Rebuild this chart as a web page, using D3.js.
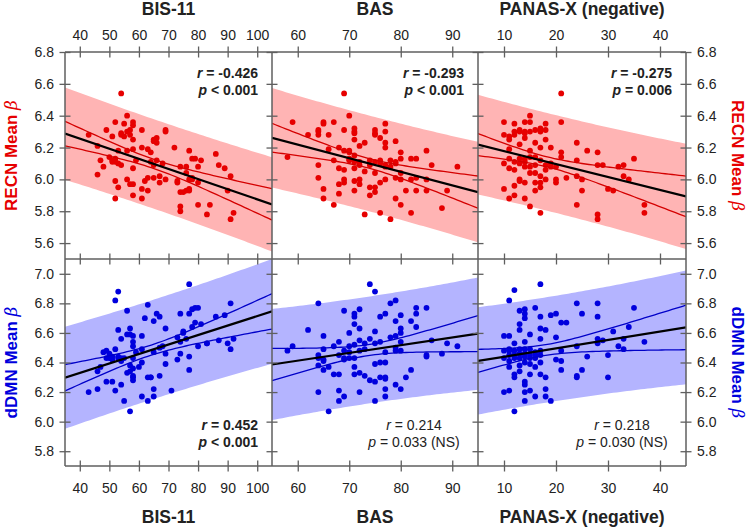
<!DOCTYPE html>
<html><head><meta charset="utf-8">
<script src="https://cdn.jsdelivr.net/npm/d3@7"></script>
<style>body{margin:0;background:#fff}svg{display:block;font-family:"Liberation Sans",Arial,sans-serif}</style>
</head><body><svg id="c" width="749" height="527"></svg>
<script>
const measures = ["BIS-11", "BAS", "PANAS-X (negative)"];
const xDomains = [[35, 105], [55, 95], [5, 45]];
const xTicks = [[40, 50, 60, 70, 80, 90, 100], [60, 70, 80, 90], [10, 20, 30, 40]];
const networks = ["RECN", "dDMN"];
const yDomains = [[5.5, 6.8], [5.7, 7.1]];
const yTicks = [[5.6, 5.8, 6.0, 6.2, 6.4, 6.6, 6.8], [5.8, 6.0, 6.2, 6.4, 6.6, 6.8, 7.0]];
const rValues = [["-0.426", "-0.293", "-0.275"], ["0.452", "0.214", "0.218"]];
const pValues = [["< 0.001", "< 0.001", "= 0.006"], ["< 0.001", "= 0.033 (NS)", "= 0.030 (NS)"]];
const significant = [[true, true, true], [true, false, false]];

const bisRecn = [[43,6.28],[46,6.21],[47,6.12],[48,6.08],[46,6.03],[49,6.31],[50,6.14],[51,6.12],[51,6.11],[52,6.11],[52,6.13],[51,6.27],[52,6.36],[52,5.99],[53,5.95],[52,5.88],[53,6.18],[53,6.10],[54,6.09],[54,6.29],[54,6.28],[55,6.35],[55,6.27],[56,6.40],[56,6.18],[56,6.00],[56,6.30],[57,6.28],[57,5.97],[58,5.97],[57,6.31],[58,6.36],[58,6.34],[58,6.25],[58,6.19],[58,6.07],[58,5.90],[59,6.12],[61,6.31],[61,6.20],[61,5.94],[61,5.88],[62,5.99],[63,6.19],[63,6.01],[64,6.17],[63,5.93],[64,6.11],[65,6.09],[65,6.01],[65,6.24],[65,6.25],[66,6.26],[66,6.12],[66,6.23],[67,6.02],[67,5.98],[68,6.10],[69,6.00],[69,6.31],[69,6.30],[72,6.20],[73,5.98],[73,5.99],[74,5.92],[74,6.08],[74,5.83],[74,5.80],[75,5.92],[76,6.04],[76,6.08],[76,5.93],[77,6.18],[77,6.00],[77,5.94],[77,5.93],[78,6.00],[78,6.13],[78,6.01],[79,6.13],[80,5.98],[80,6.08],[81,6.12],[80,5.84],[83,5.78],[84,5.84],[86,6.16],[87,6.09],[89,6.07],[90,5.93],[91,6.02],[91,5.75],[92,5.79],[54,6.54]];

const basRecn = [[59,6.36],[58,6.14],[62,6.28],[64,6.31],[64,6.30],[64,6.28],[65,6.36],[65,6.35],[66,6.28],[67,6.36],[66,6.19],[64,6.09],[64,6.01],[65,5.94],[65,5.88],[67,6.12],[67,5.84],[68,6.20],[68,6.07],[68,5.97],[68,5.91],[69,6.31],[69,6.18],[69,6.00],[69,5.98],[70,6.18],[70,6.40],[70,6.17],[70,6.12],[71,6.32],[71,6.30],[71,6.29],[71,6.25],[71,6.11],[71,6.07],[71,5.99],[71,5.93],[72,6.21],[72,6.09],[72,6.00],[72,5.97],[73,6.23],[73,5.78],[74,6.09],[74,5.95],[74,5.90],[75,6.31],[75,6.29],[75,6.28],[75,6.11],[75,5.95],[75,5.92],[76,6.26],[76,6.12],[76,5.98],[76,5.79],[77,6.35],[77,6.30],[77,6.23],[77,6.20],[77,6.09],[77,6.08],[77,6.00],[78,6.08],[78,5.75],[79,6.24],[79,6.11],[79,6.01],[79,5.88],[80,6.17],[80,6.13],[80,6.04],[80,6.00],[80,5.84],[81,5.93],[82,6.13],[82,6.00],[82,5.79],[83,6.13],[83,6.01],[83,5.93],[85,6.18],[85,6.00],[85,5.93],[86,6.09],[88,5.82],[89,5.93],[91,6.08],[70,6.13],[72,6.11],[74,6.12],[73,6.05],[76,6.10],[78,6.12],[69,6.06],[71,6.15],[75,6.04],[79,6.10],[69,6.54]];

const panasRecn = [[10,6.36],[10,6.28],[10,6.10],[10,5.94],[11,6.25],[11,6.19],[11,6.13],[11,6.07],[11,5.88],[11,6.27],[12,6.35],[12,6.30],[12,6.28],[12,6.11],[12,6.06],[12,5.96],[12,5.90],[13,6.30],[13,6.22],[13,6.13],[13,6.00],[13,5.99],[13,6.31],[14,6.36],[14,6.30],[14,6.29],[14,6.26],[14,6.13],[14,6.11],[14,5.98],[14,5.88],[15,6.40],[15,6.36],[15,6.30],[15,6.18],[15,6.14],[15,6.04],[15,5.83],[16,6.31],[16,6.23],[16,6.14],[16,6.09],[16,5.98],[16,5.93],[17,6.32],[17,6.30],[17,6.20],[17,6.12],[17,6.02],[17,5.98],[17,5.95],[17,5.79],[18,6.35],[18,6.31],[18,6.09],[18,6.00],[19,6.20],[19,6.08],[20,6.08],[20,6.00],[20,5.98],[21,6.36],[21,6.17],[21,6.14],[22,6.01],[24,6.23],[24,6.12],[24,6.02],[24,5.84],[25,6.00],[25,5.93],[26,6.18],[28,6.17],[28,6.09],[29,6.09],[28,5.78],[28,5.75],[30,5.94],[31,5.93],[32,6.08],[33,6.09],[33,6.02],[34,6.00],[35,6.13],[37,5.84],[37,5.79],[18,6.25],[18,6.06],[19,6.10],[15,6.08],[13,6.10],[14,6.08],[16,6.04],[21,6.54]];

const bisDdmn = [[43,6.20],[46,6.22],[46,6.34],[47,6.37],[48,6.47],[49,6.27],[49,6.48],[50,6.46],[51,6.27],[51,6.44],[52,6.49],[52,6.21],[52,6.82],[53,6.88],[53,6.62],[53,6.43],[53,6.44],[54,6.43],[54,6.56],[54,6.25],[54,6.41],[55,6.14],[55,6.43],[56,6.75],[56,6.59],[56,6.33],[57,6.63],[57,6.07],[57,6.59],[57,6.34],[57,6.38],[58,6.31],[58,6.58],[58,6.54],[58,6.51],[58,6.30],[58,6.28],[58,6.36],[58,6.43],[59,6.47],[60,6.37],[61,6.58],[61,6.17],[61,6.49],[61,6.40],[62,6.70],[63,6.79],[63,6.30],[63,6.14],[64,6.30],[64,6.30],[65,6.68],[65,6.22],[65,6.17],[65,6.47],[66,6.73],[67,6.71],[67,6.50],[67,6.31],[68,6.51],[69,6.63],[69,6.39],[69,6.46],[71,6.21],[73,6.57],[73,6.42],[74,6.73],[74,6.54],[74,6.46],[75,6.61],[75,6.60],[76,6.56],[77,6.93],[77,6.73],[77,6.44],[77,6.35],[78,6.64],[78,6.76],[79,6.77],[79,6.67],[80,6.77],[80,6.51],[81,6.66],[83,6.53],[83,6.53],[86,6.71],[87,6.55],[89,6.72],[90,6.53],[91,6.80],[91,6.49],[92,6.56],[49,6.43],[50,6.43],[51,6.42]];

const basDdmn = [[58,6.48],[59,6.51],[62,6.62],[64,6.80],[64,6.45],[64,6.43],[64,6.38],[64,6.20],[65,6.58],[65,6.49],[65,6.42],[65,6.41],[65,6.35],[66,6.37],[66,6.07],[67,6.51],[67,6.32],[68,6.54],[68,6.21],[68,6.14],[68,6.32],[69,6.75],[69,6.48],[69,6.43],[69,6.42],[69,6.17],[70,6.60],[70,6.47],[70,6.43],[71,6.73],[71,6.71],[71,6.66],[71,6.52],[71,6.43],[71,6.37],[71,6.32],[72,6.76],[72,6.63],[72,6.55],[72,6.48],[72,6.33],[72,6.20],[73,6.53],[73,6.31],[74,6.93],[74,6.56],[74,6.28],[75,6.88],[75,6.61],[75,6.53],[75,6.39],[75,6.27],[75,6.14],[76,6.71],[76,6.54],[76,6.40],[76,6.30],[77,6.73],[77,6.47],[77,6.40],[77,6.30],[77,6.29],[77,6.22],[77,6.17],[78,6.80],[78,6.57],[79,6.82],[79,6.68],[79,6.58],[79,6.50],[79,6.48],[79,6.25],[80,6.72],[80,6.63],[80,6.60],[80,6.54],[80,6.48],[80,6.22],[81,6.30],[82,6.68],[82,6.35],[83,6.77],[83,6.73],[83,6.64],[85,6.77],[85,6.45],[85,6.44],[86,6.55],[88,6.46],[89,6.53],[91,6.51],[68,6.45],[70,6.51],[73,6.49]];

const panasDdmn = [[10,6.58],[10,6.43],[10,6.20],[11,6.82],[11,6.58],[11,6.49],[11,6.48],[11,6.45],[11,6.41],[11,6.37],[11,6.21],[12,6.89],[12,6.53],[12,6.48],[12,6.43],[12,6.32],[12,6.30],[12,6.07],[13,6.75],[13,6.66],[13,6.62],[13,6.49],[13,6.43],[13,6.38],[13,6.34],[14,6.76],[14,6.73],[14,6.70],[14,6.54],[14,6.49],[14,6.44],[14,6.40],[14,6.27],[14,6.25],[14,6.20],[14,6.14],[15,6.59],[15,6.49],[15,6.45],[15,6.39],[15,6.32],[15,6.21],[16,6.77],[16,6.47],[16,6.45],[16,6.37],[16,6.17],[17,6.93],[17,6.71],[17,6.63],[17,6.56],[17,6.48],[17,6.40],[17,6.32],[18,6.62],[18,6.30],[18,6.22],[18,6.17],[19,6.72],[19,6.14],[20,6.73],[20,6.57],[20,6.42],[21,6.67],[21,6.48],[21,6.41],[21,6.35],[22,6.67],[24,6.80],[24,6.51],[24,6.31],[24,6.30],[25,6.73],[25,6.35],[26,6.44],[28,6.80],[28,6.71],[28,6.56],[28,6.53],[29,6.55],[30,6.45],[30,6.30],[31,6.61],[32,6.51],[33,6.56],[33,6.49],[34,6.64],[35,6.77],[37,6.54],[10,6.48],[12,6.45],[13,6.46],[15,6.43],[16,6.43],[17,6.45],[14,6.46]];

const panelData = [[bisRecn, basRecn, panasRecn], [bisDdmn, basDdmn, panasDdmn]];

// ---- styling / layout ----
const colX = [65, 272, 478, 686];
const rowY = [52, 259, 466];
const pointColor = ["#e60000", "#0000dd"];
const lineColor = ["#d40000", "#0000c8"];
const bandColor = ["#ffb4b4", "#b4b4ff"];
const axisColor = "#5f5f5f";
const textColor = "#222";
const tCrit = 1.985;

const svg = d3.select("#c");

function fitStats(pts) {
  const n = pts.length;
  const mx = d3.mean(pts, d => d[0]), my = d3.mean(pts, d => d[1]);
  let sxx = 0, sxy = 0;
  pts.forEach(([x, y]) => { sxx += (x - mx) ** 2; sxy += (x - mx) * (y - my); });
  const b = sxy / sxx, a = my - b * mx;
  let sse = 0;
  pts.forEach(([x, y]) => { sse += (y - a - b * x) ** 2; });
  const s = Math.sqrt(sse / (n - 2));
  return { n, mx, sxx, a, b, s };
}

const defs = svg.append("defs");

for (let r = 0; r < 2; r++) {
  for (let c = 0; c < 3; c++) {
    const x = d3.scaleLinear().domain(xDomains[c]).range([colX[c], colX[c + 1]]);
    const y = d3.scaleLinear().domain(yDomains[r]).range([rowY[r + 1], rowY[r]]);
    const id = `clip${r}${c}`;
    defs.append("clipPath").attr("id", id).append("rect")
      .attr("x", colX[c]).attr("y", rowY[r]).attr("width", colX[c + 1] - colX[c]).attr("height", rowY[r + 1] - rowY[r]);
    const g = svg.append("g").attr("clip-path", `url(#${id})`);
    const pts = panelData[r][c];
    const f = fitStats(pts);
    const xs = d3.range(61).map(i => xDomains[c][0] + i * (xDomains[c][1] - xDomains[c][0]) / 60);
    const se = (xv, extra) => f.s * Math.sqrt(extra + 1 / f.n + (xv - f.mx) ** 2 / f.sxx);
    const yhat = xv => f.a + f.b * xv;
    g.append("path").datum(xs)
      .attr("d", d3.area().x(d => x(d)).y0(d => y(yhat(d) - tCrit * se(d, 1))).y1(d => y(yhat(d) + tCrit * se(d, 1))))
      .attr("fill", bandColor[r]);
    g.selectAll("circle").data(pts).join("circle")
      .attr("cx", d => x(d[0])).attr("cy", d => y(d[1])).attr("r", 2.9).attr("fill", pointColor[r]);
    [-1, 1].forEach(sg => {
      g.append("path").datum(xs)
        .attr("d", d3.line().x(d => x(d)).y(d => y(yhat(d) + sg * tCrit * se(d, 0))))
        .attr("fill", "none").attr("stroke", lineColor[r]).attr("stroke-width", 1.3);
    });
    g.append("path").datum(xDomains[c])
      .attr("d", d3.line().x(d => x(d)).y(d => y(yhat(d))))
      .attr("fill", "none").attr("stroke", "#000").attr("stroke-width", 2.2);

    // annotations
    const sig = significant[r][c];
    const ax = sig ? colX[c + 1] - 14 : colX[c + 1] - 64;
    const yR = r === 0 ? rowY[0] + 25.5 : rowY[2] - 36;
    const yP = r === 0 ? rowY[0] + 43 : rowY[2] - 19;
    const t1 = svg.append("text").attr("x", ax).attr("y", yR).attr("text-anchor", sig ? "end" : "middle")
      .attr("font-size", 14).attr("font-weight", sig ? "bold" : "normal").attr("fill", textColor);
    t1.append("tspan").attr("font-style", "italic").text("r");
    t1.append("tspan").text(" = " + rValues[r][c]);
    const t2 = svg.append("text").attr("x", ax).attr("y", yP).attr("text-anchor", sig ? "end" : "middle")
      .attr("font-size", 14).attr("font-weight", sig ? "bold" : "normal").attr("fill", textColor);
    t2.append("tspan").attr("font-style", "italic").text("p");
    t2.append("tspan").text(" " + pValues[r][c]);
  }
}

// axes
function styleAxis(g, crossA, crossB, vertical) {
  g.select(".domain").remove();
  g.selectAll(".tick line").attr("stroke", axisColor).attr("stroke-width", 1.3);
  if (vertical) g.selectAll(".tick line").attr("x1", crossA).attr("x2", crossB);
  else g.selectAll(".tick line").attr("y1", crossA).attr("y2", crossB);
  g.selectAll(".tick text").attr("fill", textColor).attr("font-size", 14)
    .attr("font-family", '"Liberation Sans",Arial,sans-serif');
}

for (let r = 0; r < 2; r++) {
  const y = d3.scaleLinear().domain(yDomains[r]).range([rowY[r + 1], rowY[r]]);
  colX.forEach((cx, k) => {
    let ax;
    if (k === 0) ax = d3.axisLeft(y).tickValues(yTicks[r]).tickFormat(d3.format(".1f")).tickPadding(5);
    else if (k === 3) ax = d3.axisRight(y).tickValues(yTicks[r]).tickFormat(d3.format(".1f")).tickPadding(5);
    else ax = d3.axisLeft(y).tickValues(yTicks[r]).tickFormat("");
    const g = svg.append("g").attr("transform", `translate(${cx},0)`).call(ax);
    styleAxis(g, -5.5, 5.5, true);
    if (k === 0) g.selectAll(".tick text").attr("x", -11);
    if (k === 3) g.selectAll(".tick text").attr("x", 11);
  });
}
for (let c = 0; c < 3; c++) {
  const x = d3.scaleLinear().domain(xDomains[c]).range([colX[c], colX[c + 1]]);
  rowY.forEach((ry, k) => {
    let ax;
    if (k === 0) ax = d3.axisTop(x).tickValues(xTicks[c]).tickFormat(d3.format("d"));
    else if (k === 2) ax = d3.axisBottom(x).tickValues(xTicks[c]).tickFormat(d3.format("d"));
    else ax = d3.axisTop(x).tickValues(xTicks[c]).tickFormat("");
    const g = svg.append("g").attr("transform", `translate(0,${ry})`).call(ax);
    styleAxis(g, -5.5, 5.5, false);
    if (k === 0) g.selectAll(".tick text").attr("y", -12).attr("dy", 0);
    if (k === 2) g.selectAll(".tick text").attr("y", 27).attr("dy", 0);
  });
}

// frame lines
const lineG = svg.append("g").attr("stroke", axisColor).attr("stroke-width", 1.5);
colX.forEach(cx => lineG.append("line").attr("x1", cx).attr("x2", cx).attr("y1", rowY[0]).attr("y2", rowY[2]));
rowY.forEach(ry => lineG.append("line").attr("x1", colX[0]).attr("x2", colX[3]).attr("y1", ry).attr("y2", ry));

// titles
measures.forEach((m, c) => {
  const cxm = (colX[c] + colX[c + 1]) / 2;
  svg.append("text").attr("x", cxm).attr("y", 14.5).attr("text-anchor", "middle")
    .attr("font-size", 17.5).attr("font-weight", "bold").attr("fill", textColor).text(m);
  svg.append("text").attr("x", cxm).attr("y", 523).attr("text-anchor", "middle")
    .attr("font-size", 17.5).attr("font-weight", "bold").attr("fill", textColor).text(m);
});

// network labels
networks.forEach((nw, r) => {
  const cy = (rowY[r] + rowY[r + 1]) / 2;
  [[17, -90], [732, 90]].forEach(([lx, rot]) => {
    const t = svg.append("text").attr("transform", `translate(${lx},${cy}) rotate(${rot})`)
      .attr("text-anchor", "middle").attr("font-size", 17).attr("font-weight", "bold").attr("fill", pointColor[r]);
    t.append("tspan").text(nw + " Mean ");
    t.append("tspan").attr("font-style", "italic").attr("font-weight", "normal")
      .attr("font-family", '"DejaVu Serif",serif').text("β");
  });
});
</script></body></html>
